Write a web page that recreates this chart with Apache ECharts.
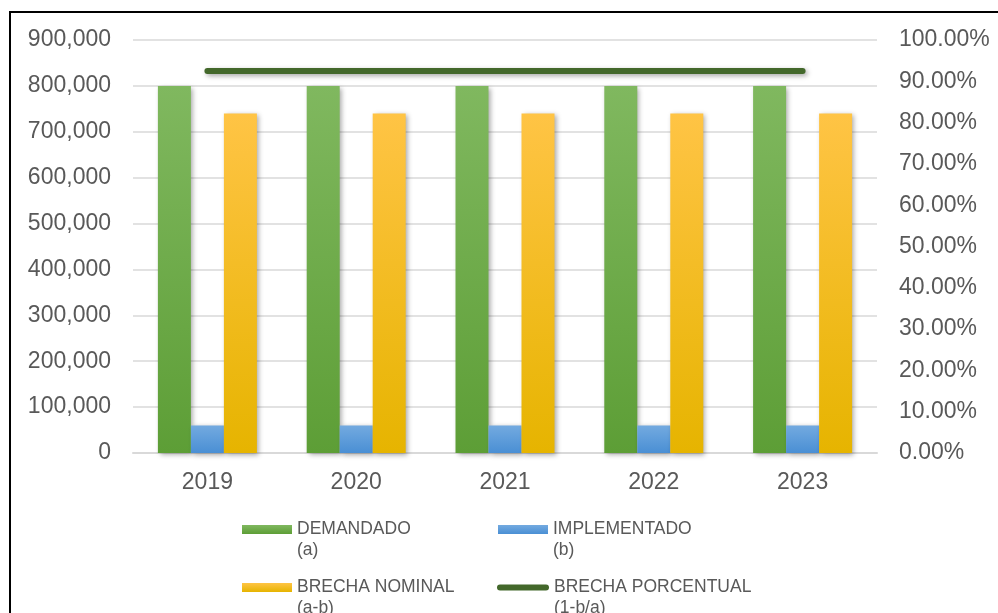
<!DOCTYPE html>
<html>
<head>
<meta charset="utf-8">
<script src="https://cdn.jsdelivr.net/npm/echarts@6/dist/echarts.min.js"></script>
<style>html,body{margin:0;padding:0;background:#fff;}#c{width:998px;height:613px;}</style>
</head>
<body>
<div id="c"></div>
<script>
const years = ['2019', '2020', '2021', '2022', '2023'];
const demandado = [800000, 800000, 800000, 800000, 800000];
const implementado = [60000, 60000, 60000, 60000, 60000];
const brechaNominal = [740000, 740000, 740000, 740000, 740000];
const brechaPorcentual = [0.925, 0.925, 0.925, 0.925, 0.925];
const seriesNames = ['DEMANDADO\n(a)', 'IMPLEMENTADO\n(b)', 'BRECHA NOMINAL\n(a-b)', 'BRECHA PORCENTUAL\n(1-b/a)'];

const chart = echarts.init(document.getElementById('c'), null, {renderer: 'canvas'});
const FONT = 'Liberation Sans, Arial, sans-serif';
const lbl = '#595959';
function grad(top, bottom) {
  return new echarts.graphic.LinearGradient(0, 0, 0, 1, [{offset: 0, color: top}, {offset: 1, color: bottom}]);
}
const barShadow = {shadowColor: 'rgba(0,0,0,0.35)', shadowBlur: 5, shadowOffsetX: 2, shadowOffsetY: 2};
function legend(name, left, top, icon, w, h) {
  return {
    data: [{name: name, icon: icon}],
    left: left, top: top, padding: 0,
    itemWidth: w, itemHeight: h, itemGap: 0,
    selectedMode: false,
    formatter: n => ' \n' + n,
    textStyle: {color: lbl, fontSize: 17.5, fontFamily: FONT, lineHeight: 21}
  };
}
const capsule = 'path://M3,0 H49 A3,3 0 0 1 49,6 H3 A3,3 0 0 1 3,0 Z';
chart.setOption({
  animation: false,
  backgroundColor: '#fff',
  grid: {left: 133, right: 121, top: 40, bottom: 160},
  legend: [
    legend(seriesNames[0], 242, 498, 'rect', 50, 9),
    legend(seriesNames[1], 498, 498, 'rect', 50, 9),
    legend(seriesNames[2], 242, 556, 'rect', 50, 9),
    legend(seriesNames[3], 497, 556, capsule, 52, 7)
  ],
  xAxis: {
    type: 'category', data: years,
    axisTick: {show: false},
    axisLine: {lineStyle: {color: '#d9d9d9', width: 2}},
    axisLabel: {color: lbl, fontSize: 23, fontFamily: FONT, margin: 18}
  },
  yAxis: [{
    type: 'value', min: 0, max: 900000, interval: 100000,
    axisLine: {show: false}, axisTick: {show: false},
    splitLine: {lineStyle: {color: '#d9d9d9', width: 1.5}},
    axisLabel: {color: lbl, fontSize: 23, fontFamily: FONT, margin: 22,
      formatter: v => v === 0 ? '0' : v.toLocaleString('en-US')}
  }, {
    type: 'value', min: 0, max: 1, interval: 0.1,
    axisLine: {show: false}, axisTick: {show: false}, splitLine: {show: false},
    axisLabel: {color: lbl, fontSize: 23, fontFamily: FONT, margin: 22,
      formatter: v => (v * 100).toFixed(2) + '%'}
  }],
  series: [{
    name: seriesNames[0], type: 'bar', data: demandado, barWidth: 33, barGap: '0%',
    itemStyle: Object.assign({color: grad('#80b85f', '#5d9e36')}, barShadow)
  }, {
    name: seriesNames[1], type: 'bar', data: implementado, barWidth: 33, barGap: '0%',
    itemStyle: Object.assign({color: grad('#73aae0', '#4a8fd4')}, barShadow)
  }, {
    name: seriesNames[2], type: 'bar', data: brechaNominal, barWidth: 33, barGap: '0%',
    itemStyle: Object.assign({color: grad('#ffc445', '#e6b400')}, barShadow)
  }, {
    name: seriesNames[3], type: 'line', yAxisIndex: 1, data: brechaPorcentual,
    symbol: 'none', z: 5,
    itemStyle: {color: '#43682b'},
    lineStyle: {color: '#43682b', width: 6, cap: 'round',
      shadowColor: 'rgba(0,0,0,0.35)', shadowBlur: 5, shadowOffsetX: 2, shadowOffsetY: 2}
  }],
  graphic: [{
    type: 'polyline', silent: true,
    shape: {points: [[10, 620], [10, 12], [1000, 12]]},
    style: {stroke: '#000', lineWidth: 2, fill: null}
  }]
});
</script>
</body>
</html>
